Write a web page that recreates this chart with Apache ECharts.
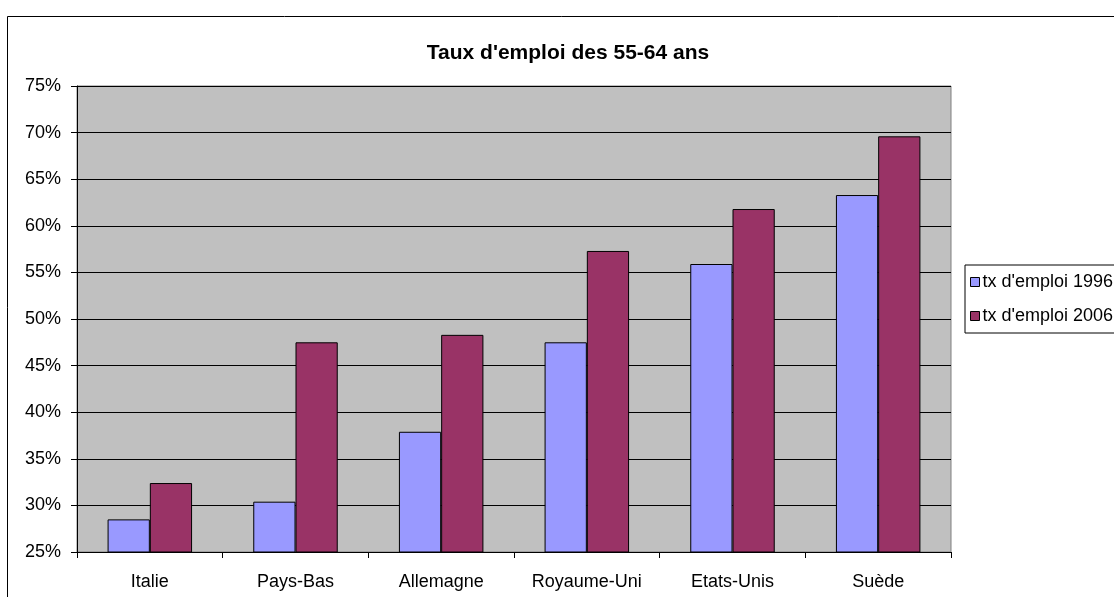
<!DOCTYPE html>
<html lang="fr">
<head>
    <meta charset="UTF-8">
    <title>Taux d'emploi des 55-64 ans</title>
    <script src="https://cdn.jsdelivr.net/npm/echarts@6/dist/echarts.min.js"></script>
    <style>
        html, body { margin: 0; padding: 0; background: #fff; }
    </style>
</head>
<body>
<div id="main" style="width:1114px;height:597px;"></div>
<script>
    // données
    var pays = ['Italie', 'Pays-Bas', 'Allemagne', 'Royaume-Uni', 'Etats-Unis', 'Suède'];
    var tx1996 = [28.5, 30.4, 37.9, 47.5, 55.9, 63.3];
    var tx2006 = [32.4, 47.5, 48.3, 57.3, 61.8, 69.6];
    var nomsSeries = ["tx d'emploi 1996", "tx d'emploi 2006"];

    var police = 'Liberation Sans, Arial, sans-serif';
    var myChart = echarts.init(document.getElementById('main'));

    var option = {
        animation: false,
        title: {
            text: "Taux d'emploi des 55-64 ans",
            left: 563,
            top: 38,
            textAlign: 'center',
            textStyle: { fontFamily: police, fontSize: 21, fontWeight: 'bold', color: '#000' }
        },
        // cadre extérieur du graphique
        graphic: [{
            type: 'rect',
            z: -1,
            shape: { x: 7.5, y: 16.5, width: 1200, height: 700 },
            style: { fill: 'none', stroke: '#000', lineWidth: 1 }
        }],
        legend: {
            data: nomsSeries,
            orient: 'vertical',
            left: 965,
            top: 265,
            padding: [8, 40, 8, 5],
            itemGap: 16,
            itemWidth: 9,
            itemHeight: 9,
            icon: 'rect',
            backgroundColor: '#fff',
            borderColor: '#000',
            borderWidth: 1,
            borderRadius: 0,
            itemStyle: { borderColor: '#000', borderWidth: 1 },
            textStyle: { fontFamily: police, fontSize: 18, color: '#000', padding: [0, 0, 0, -2] }
        },
        grid: {
            left: 77,
            right: 163,
            top: 86,
            bottom: 45,
            show: true,
            backgroundColor: '#C0C0C0',
            borderColor: '#808080',
            borderWidth: 1
        },
        xAxis: {
            type: 'category',
            data: pays,
            axisLine: { lineStyle: { color: '#000' } },
            axisTick: { show: true, length: 6, lineStyle: { color: '#000' } },
            axisLabel: { interval: 0, fontFamily: police, fontSize: 18, color: '#000', margin: 21 }
        },
        yAxis: {
            type: 'value',
            min: 25,
            max: 75,
            interval: 5,
            axisLine: { show: true, lineStyle: { color: '#000' } },
            axisTick: { show: true, length: 6, lineStyle: { color: '#000' } },
            axisLabel: { formatter: '{value}%', fontFamily: police, fontSize: 18, color: '#000', margin: 16 },
            splitLine: { lineStyle: { color: '#000', width: 1 } }
        },
        series: [
            {
                name: nomsSeries[0],
                type: 'bar',
                data: tx1996,
                barGap: '0%',
                barCategoryGap: '42%',
                itemStyle: { color: '#9999FF', borderColor: '#000', borderWidth: 1 }
            },
            {
                name: nomsSeries[1],
                type: 'bar',
                data: tx2006,
                barGap: '0%',
                barCategoryGap: '42%',
                itemStyle: { color: '#993366', borderColor: '#000', borderWidth: 1 }
            }
        ]
    };

    myChart.setOption(option);
</script>
</body>
</html>
